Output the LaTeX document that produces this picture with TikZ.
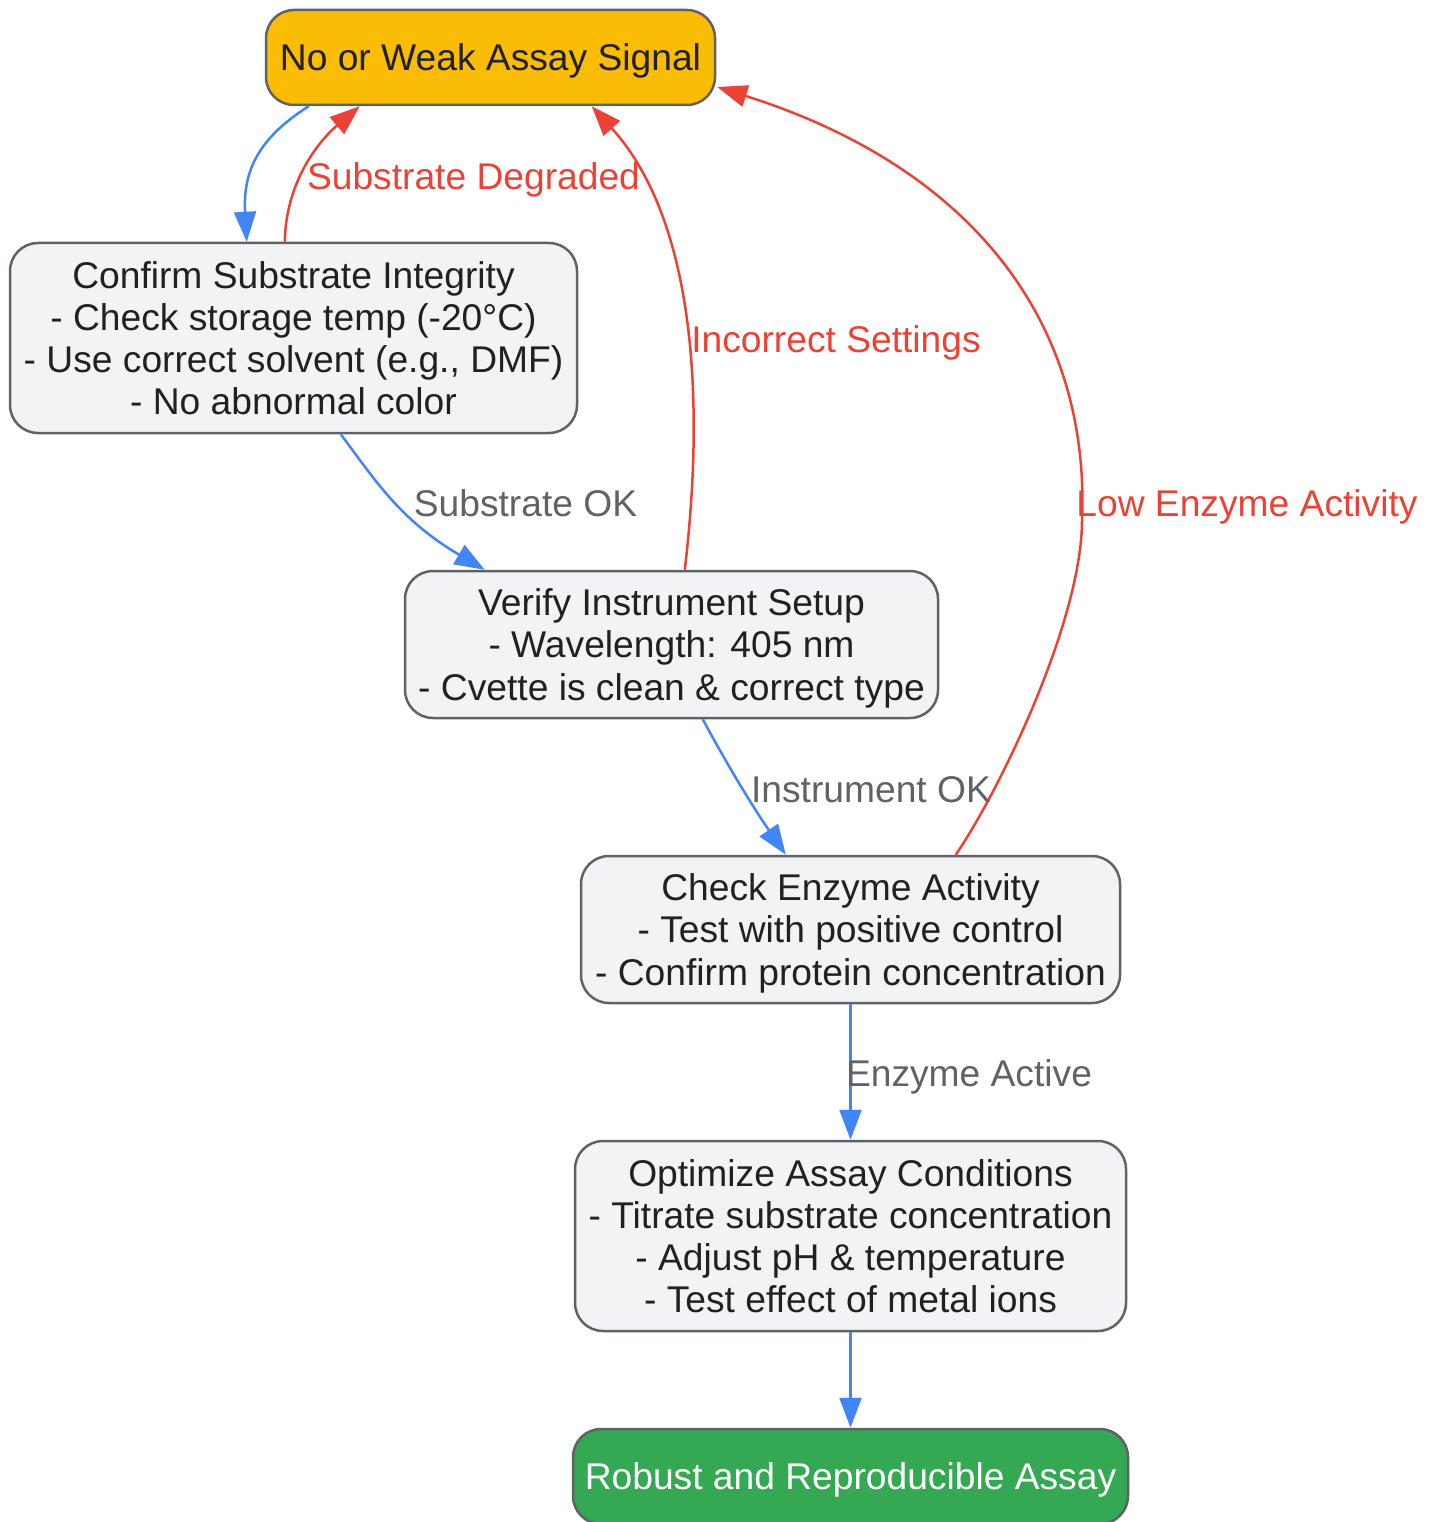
\documentclass[tikz,border=0pt]{standalone}
\usepackage{fontspec}
\setmainfont{Liberation Sans}
\usetikzlibrary{arrows.meta,calc}
\definecolor{yel}{HTML}{FBBC05}
\definecolor{grn}{HTML}{34A853}
\definecolor{nodegray}{HTML}{F1F3F4}
\definecolor{bordergray}{HTML}{5F6368}
\definecolor{textdark}{HTML}{202124}
\definecolor{ered}{HTML}{EA4335}
\definecolor{eblue}{HTML}{4285F4}
\definecolor{lblgray}{HTML}{5F6368}
\begin{document}
\begin{tikzpicture}[x=1pt,y=-1pt,
  bigfont/.style={font=\fontsize{37.2}{42.3}\selectfont},
  box/.style={bigfont, draw=bordergray, line width=2.5pt, rounded corners=28pt,
    fill=nodegray, text=textdark, align=center, inner sep=0pt, text depth=0pt},
  lbl/.style={bigfont, inner sep=0pt, text height=27pt, text depth=8pt, anchor=center},
  okedge/.style={draw=eblue, line width=2.5pt, -{Triangle[length=30pt,width=22pt]}},
  badedge/.style={draw=ered, line width=2.5pt, -{Triangle[length=30pt,width=22pt]}},
]
\useasboundingbox (0,0) rectangle (1434,1522);
\fill[white] (0,0) rectangle (1434,1522);

\node[box, fill=yel, minimum width=449pt, minimum height=95pt] (top) at (490.5,57.5) {No or Weak Assay Signal};
\node[box, minimum width=567pt, minimum height=190pt] (confirm) at (293.5,338)
  {Confirm Substrate Integrity\\- Check storage temp (-20°C)\\- Use correct solvent (e.g., DMF)\\- No abnormal color};
\node[box, minimum width=533pt, minimum height=147pt] (verify) at (671.5,644.5)
  {Verify Instrument Setup\\- Wavelength: 405 nm\\- Cvette is clean \& correct type};
\node[box, minimum width=539pt, minimum height=147pt] (check) at (850.5,929.5)
  {Check Enzyme Activity\\- Test with positive control\\- Confirm protein concentration};
\node[box, minimum width=551pt, minimum height=190pt] (optimize) at (850.5,1236)
  {Optimize Assay Conditions\\- Titrate substrate concentration\\- Adjust pH \& temperature\\- Test effect of metal ions};
\node[box, fill=grn, text=white, minimum width=555pt, minimum height=95pt] (robust) at (850.5,1476.5)
  {Robust and Reproducible Assay};

% top -> confirm
\draw[okedge] ($(top.south west)+(44,0)$) .. controls (255,140) and (243,175) .. ($(confirm.north west)+(238,0)$);
% confirm -> top
\draw[badedge] ($(confirm.north west)+(276,0)$) .. controls (286,180) and (320,140) .. ($(top.south west)+(95,0)$);
% confirm -> verify
\draw[okedge] ($(confirm.south west)+(332,0)$) .. controls (375,480) and (400,520) .. ($(verify.north west)+(81,0)$);
% verify -> top
\draw[badedge] ($(verify.north west)+(281,0)$) .. controls (705,400) and (695,220) .. ($(top.south west)+(327,0)$);
% verify -> check
\draw[okedge] ($(verify.south west)+(299,0)$) .. controls (730,770) and (755,810) .. ($(check.north west)+(206,0)$);
% check -> top
\coordinate (c6) at (1082,520);
\draw[badedge] ($(check.north west)+(376,0)$) .. controls (1000,790) and (1082,620) .. (c6)
  .. controls (1090,330) and (980,170) .. ($(top.east)+(1,29.5)$);
% check -> optimize
\draw[okedge] (check.south) -- (optimize.north);
% optimize -> robust
\draw[okedge] (optimize.south) -- (robust.north);

% labels
\node[lbl, text=ered] (l1) at (473.5,180) {Substrate Degraded};
\node[lbl, text=lblgray] (l2) at (525.5,507) {Substrate OK};
\node[lbl, text=ered] (l3) at (836,343) {Incorrect Settings};
\node[lbl, text=lblgray] (l4) at (871,793) {Instrument OK};
\node[lbl, text=ered] (l5) at (1247,507) {Low Enzyme Activity};
\node[lbl, text=lblgray] (l6) at (969,1077) {Enzyme Active};
\end{tikzpicture}
\end{document}
